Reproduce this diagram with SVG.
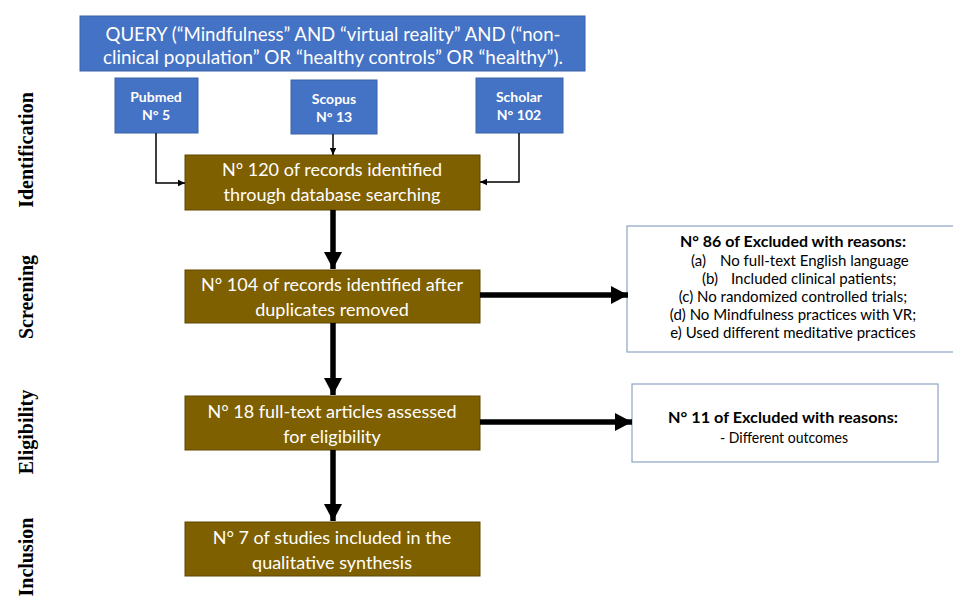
<svg xmlns="http://www.w3.org/2000/svg" width="953" height="597" viewBox="0 0 953 597">
<defs>
<style>
.blue{fill:#4472C4;stroke:#3A62A8;stroke-width:1}
.brown{fill:#7F6000;stroke:#5E4700;stroke-width:1}
.white{fill:#ffffff;stroke:#8EA4C4;stroke-width:1.2}
.qt{font-family:Lato,"Open Sans",sans-serif;font-size:19px;fill:#fff;text-anchor:middle}
.st{font-family:Lato,"Open Sans",sans-serif;font-size:14px;font-weight:bold;fill:#fff;text-anchor:middle}
.bt{font-family:Lato,"Open Sans",sans-serif;font-size:18px;fill:#fff;text-anchor:middle}
.et{font-family:Lato,"Open Sans",sans-serif;font-size:15px;fill:#000;text-anchor:middle}
.es{font-family:Lato,"Open Sans",sans-serif;font-size:15px;fill:#000;text-anchor:start}
.eh{font-family:Lato,"Open Sans",sans-serif;font-size:16px;font-weight:bold;fill:#000;text-anchor:middle}
.lab{font-family:"Liberation Serif","DejaVu Serif",serif;font-size:20px;font-weight:bold;fill:#000;text-anchor:middle}
.thin{fill:none;stroke:#000;stroke-width:1.5}
.thick{fill:none;stroke:#000;stroke-width:5.5}
</style>
<marker id="ah" markerUnits="userSpaceOnUse" markerWidth="8" markerHeight="8" refX="7" refY="4" orient="auto"><path d="M0,0.8 L7,4 L0,7.2 Z" fill="#000"/></marker>
<marker id="AH" markerUnits="userSpaceOnUse" markerWidth="18" markerHeight="20" refX="17" refY="10" orient="auto"><path d="M0,1 L17,10 L0,19 Z" fill="#000"/></marker>
</defs>

<g id="labels">
<text class="lab" transform="translate(33,150) rotate(-90)">Identification</text>
<text class="lab" transform="translate(33,297) rotate(-90)">Screening</text>
<text class="lab" transform="translate(33,432) rotate(-90)">Eligibility</text>
<text class="lab" transform="translate(33,557) rotate(-90)">Inclusion</text>
</g>

<g id="query">
<rect class="blue" x="80" y="16" width="505" height="55"/>
<text class="qt" x="333" y="41" textLength="455" lengthAdjust="spacingAndGlyphs">QUERY (“Mindfulness” AND “virtual reality” AND (“non-</text>
<text class="qt" x="333" y="64" textLength="460" lengthAdjust="spacingAndGlyphs">clinical population” OR “healthy controls” OR “healthy”).</text>
</g>

<g id="pubmed">
<rect class="blue" x="115" y="78" width="83" height="55"/>
<text class="st" x="156" y="102">Pubmed</text>
<text class="st" x="156" y="120">N° 5</text>
</g>
<g id="scopus">
<rect class="blue" x="291" y="80" width="86" height="54"/>
<text class="st" x="334" y="104">Scopus</text>
<text class="st" x="334" y="122">N° 13</text>
</g>
<g id="scholar">
<rect class="blue" x="476" y="78" width="87" height="55"/>
<text class="st" x="519" y="102">Scholar</text>
<text class="st" x="519" y="120">N° 102</text>
</g>

<g id="records">
<rect class="brown" x="185" y="155" width="295" height="55"/>
<text class="bt" x="332" y="176">N° 120 of records identified</text>
<text class="bt" x="332" y="201">through database searching</text>
</g>
<g id="dedup">
<rect class="brown" x="185" y="270" width="295" height="53"/>
<text class="bt" x="332" y="291">N° 104 of records identified after</text>
<text class="bt" x="332" y="316">duplicates removed</text>
</g>
<g id="fulltext">
<rect class="brown" x="185" y="396" width="295" height="54"/>
<text class="bt" x="332" y="418">N° 18 full-text articles assessed</text>
<text class="bt" x="332" y="443">for eligibility</text>
</g>
<g id="included">
<rect class="brown" x="185" y="522" width="295" height="54"/>
<text class="bt" x="332" y="544">N° 7 of studies included in the</text>
<text class="bt" x="332" y="569">qualitative synthesis</text>
</g>

<g id="excluded1">
<rect class="white" x="627" y="226" width="330" height="126"/>
<text class="eh" x="793" y="247" textLength="226" lengthAdjust="spacingAndGlyphs">N° 86 of Excluded with reasons:</text>
<text class="es" y="266"><tspan x="691">(a)</tspan><tspan x="720">No full-text English language</tspan></text>
<text class="es" y="284"><tspan x="702">(b)</tspan><tspan x="731">Included clinical patients;</tspan></text>
<text class="et" x="793" y="302">(c) No randomized controlled trials;</text>
<text class="et" x="793" y="320">(d) No Mindfulness practices with VR;</text>
<text class="et" x="793" y="338">e) Used different meditative practices</text>
</g>
<g id="excluded2">
<rect class="white" x="632" y="384" width="306" height="78"/>
<text class="eh" x="783" y="423" textLength="230" lengthAdjust="spacingAndGlyphs">N° 11 of Excluded with reasons:</text>
<text class="et" x="784" y="443" style="font-size:14.5px" textLength="128" lengthAdjust="spacingAndGlyphs">- Different outcomes</text>
</g>

<g id="connectors">
<path class="thin" d="M156,133 V183 H185" marker-end="url(#ah)"/>
<path class="thin" d="M333,134 V155" marker-end="url(#ah)"/>
<path class="thin" d="M519,133 V182 H480" marker-end="url(#ah)"/>
<path class="thick" d="M333,210 V269" marker-end="url(#AH)"/>
<path class="thick" d="M480,295 H628" marker-end="url(#AH)"/>
<path class="thick" d="M333,323 V395" marker-end="url(#AH)"/>
<path class="thick" d="M480,422 H632" marker-end="url(#AH)"/>
<path class="thick" d="M333,450 V521" marker-end="url(#AH)"/>
</g>
</svg>
